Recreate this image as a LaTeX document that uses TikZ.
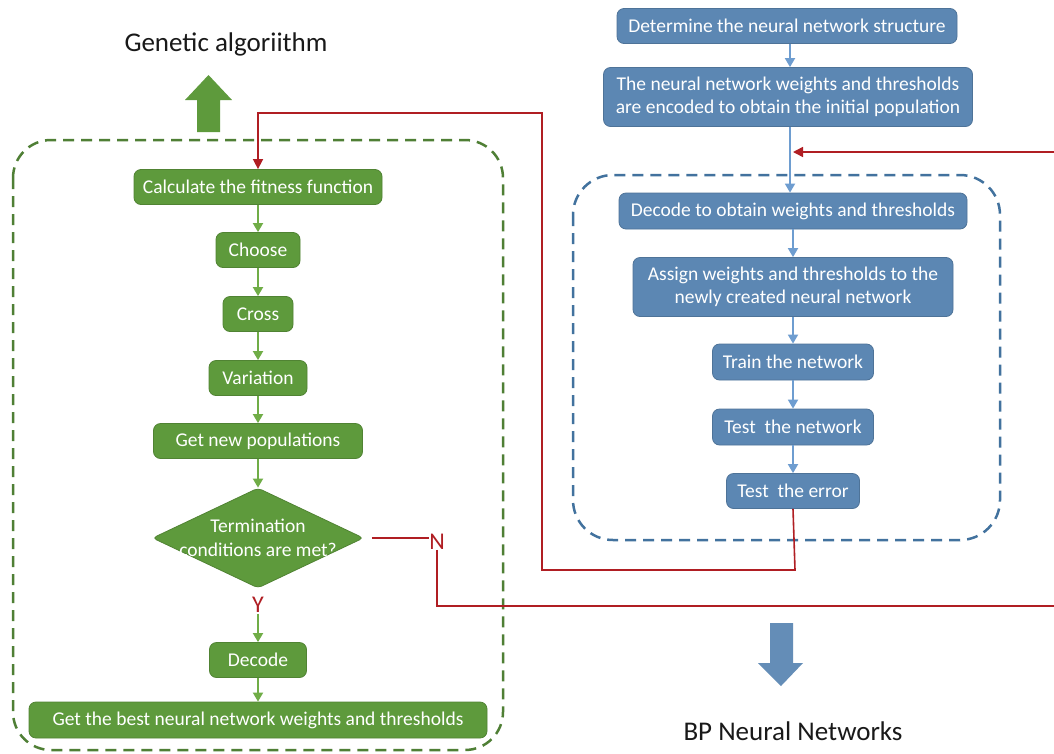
\documentclass[tikz,border=0pt]{standalone}
\usepackage{fontspec}
\setmainfont{Carlito}
\usetikzlibrary{shapes.geometric,arrows.meta}
\definecolor{gfill}{HTML}{5E9A3C}
\definecolor{garrow}{HTML}{70AD47}
\definecolor{gdash}{HTML}{4F7F35}
\definecolor{bfill}{HTML}{5C87B3}
\definecolor{barrow}{HTML}{6E9DD0}
\definecolor{bdash}{HTML}{42729E}
\definecolor{redl}{HTML}{B01E23}
\tikzset{
  gbox/.style={draw=gfill!85!black, line width=0.8pt, fill=gfill, rounded corners=7pt, text=white, inner sep=0pt, align=center, font=\fontsize{19.5}{23}\selectfont},
  bbox/.style={draw=bfill!85!black, line width=0.8pt, fill=bfill, rounded corners=7pt, text=white, inner sep=0pt, align=center, font=\fontsize{19.5}{23}\selectfont},
  garr/.style={draw=garrow, line width=1.8pt, -{Triangle[width=10pt,length=9pt]}},
  barr/.style={draw=barrow, line width=1.8pt, -{Triangle[width=10pt,length=9pt]}},
  rline/.style={draw=redl, line width=1.6pt},
  rarr/.style={draw=redl, line width=1.6pt, -{Triangle[width=10pt,length=10pt]}},
  title/.style={font=\fontsize{27}{32}\selectfont, text=black!90}
}
\begin{document}
\begin{tikzpicture}[x=1pt,y=-1pt]
\useasboundingbox[fill=white] (0,0) rectangle (1054,753);

% dashed containers
\draw[gdash, line width=2.5pt, dash pattern=on 11pt off 7pt, rounded corners=38pt] (13,140) rectangle (503,750);
\draw[bdash, line width=2.5pt, dash pattern=on 11pt off 7pt, rounded corners=40pt] (573,175) rectangle (1000,540);

% titles
\node[title] (ga) at (226,44) {Genetic algoriithm};
\node[title] (bp) at (793,731) {BP Neural Networks};

% block arrows
\fill[gfill] (197,132) -- (197,100) -- (185,100) -- (208.5,75) -- (232,100) -- (220,100) -- (220,132) -- cycle;
\fill[bfill!95!white] (770,623) -- (793,623) -- (793,663) -- (803,663) -- (781,686) -- (758,663) -- (770,663) -- cycle;

% green nodes
\node[gbox, minimum width=248pt, minimum height=35pt] (calc) at (258,187) {Calculate the fitness function};
\node[gbox, minimum width=84pt, minimum height=35pt] (choose) at (258,250) {Choose};
\node[gbox, minimum width=70pt, minimum height=35pt] (cross) at (258,314) {Cross};
\node[gbox, minimum width=98pt, minimum height=35pt] (vari) at (258,378) {Variation};
\node[gbox, minimum width=209pt, minimum height=35pt] (newpop) at (258,441) {Get new populations};
\node[diamond, draw=gfill!85!black, line width=0.8pt, fill=gfill, inner sep=0pt, minimum width=211pt, minimum height=100pt, rounded corners=4pt] (dia) at (258,538) {};
\node[text=white, align=center, font=\fontsize{19.5}{24}\selectfont] (diat) at (258,538) {Termination\\conditions are met?};
\node[text=redl, font=\fontsize{24}{28}\selectfont, inner sep=1pt] (Y) at (258,605) {Y};
\node[gbox, minimum width=97pt, minimum height=35pt] (dec) at (258,660) {Decode};
\node[gbox, minimum width=458pt, minimum height=36pt] (best) at (258,720) {Get the best neural network weights and thresholds};

% green arrows
\draw[garr] (calc) -- (choose);
\draw[garr] (choose) -- (cross);
\draw[garr] (cross) -- (vari);
\draw[garr] (vari) -- (newpop);
\draw[garr] (newpop) -- (dia);
\draw[garr] (Y) -- (dec);
\draw[garr] (dec) -- (best);

% blue nodes
\node[bbox, minimum width=340pt, minimum height=35pt] (det) at (787,26) {Determine the neural network structure};
\node[bbox, minimum width=369pt, minimum height=59pt] (enc) at (788,97) {The neural network weights and thresholds\\are encoded to obtain the initial population};
\node[bbox, minimum width=348pt, minimum height=36pt] (dto) at (793,211) {Decode to obtain weights and thresholds};
\node[bbox, minimum width=320pt, minimum height=59pt] (asg) at (793,287) {Assign weights and thresholds to the\\newly created neural network};
\node[bbox, minimum width=161pt, minimum height=36pt] (train) at (793,362) {Train the network};
\node[bbox, minimum width=161pt, minimum height=36pt] (testn) at (793,427) {Test~ the network};
\node[bbox, minimum width=133pt, minimum height=35pt] (teste) at (793,491) {Test~ the error};

% blue arrows
\draw[barr] (det.south -| 790,0) -- (enc.north -| 790,0);
\draw[barr] (enc.south -| 790,0) -- (dto.north -| 790,0);
\draw[barr] (dto) -- (asg);
\draw[barr] (asg) -- (train);
\draw[barr] (train) -- (testn);
\draw[barr] (testn) -- (teste);

% red feedback lines
\coordinate (mergeR) at (793,152);
\coordinate (farR) at (1070,152);
\coordinate (farB) at (1070,606);
\node[text=redl, font=\fontsize{24}{28}\selectfont, inner sep=0pt] (N) at (437,542) {N};
\draw[rline] (dia.east) ++(8,0) -- (N.west |- dia.east);
\draw[rarr] (N.south) |- (farB) -- (farR) -- (mergeR);
\draw[rarr] (teste.south) -- (795,570) -- (542,570) -- (542,113) -- (258,113) -- (calc.north);
\end{tikzpicture}
\end{document}
